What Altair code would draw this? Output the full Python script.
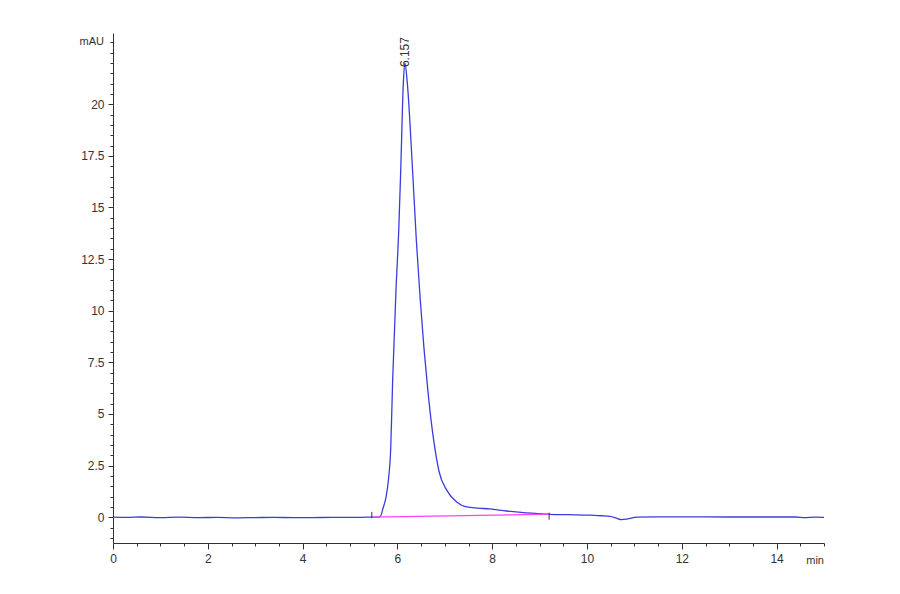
import altair as alt
import pandas as pd

# Chromatogram trace (time in min, signal in mAU)
times = [0.0, 0.3, 0.6, 1.0, 1.4, 1.8, 2.2, 2.6, 3.0, 3.4, 3.8, 4.2, 4.6, 5.0, 5.4, 5.55,
         5.633, 5.703, 5.76, 5.81, 5.86, 5.90, 5.97, 6.03, 6.07, 6.125, 6.157,
         6.21, 6.32, 6.40, 6.48, 6.56, 6.64, 6.71, 6.78, 6.88, 7.04, 7.25, 7.46, 7.7, 7.95,
         8.3, 8.66, 9.0, 9.22, 9.6, 10.06, 10.3, 10.49, 10.62, 10.73, 10.85, 11.05,
         11.5, 12.0, 13.0, 14.0, 14.4, 14.6, 14.8, 15.0]
signal = [0.0, -0.01, 0.01, -0.02, 0.0, -0.02, -0.01, -0.03, -0.02, -0.01, -0.02, -0.02, -0.01, -0.01, 0.0, 0.0,
          0.02, 0.48, 0.97, 1.79, 3.39, 6.63, 10.99, 14.0, 16.8, 21.0, 22.0,
          21.0, 16.8, 13.4, 10.6, 8.2, 6.2, 4.7, 3.5, 2.2, 1.31, 0.74, 0.50, 0.44, 0.40,
          0.30, 0.22, 0.17, 0.14, 0.12, 0.10, 0.07, 0.04, -0.05, -0.12, -0.09, 0.0,
          0.02, 0.02, 0.01, 0.01, 0.01, -0.02, 0.0, -0.01]

# Integration baseline
base_t = [5.46, 9.2]
base_v = [0.0, 0.15]

# Peak start / end markers
mark_t = [5.46, 9.2]
mark_lo = [-0.05, -0.12]
mark_hi = [0.26, 0.22]

peak_t = [6.157]
peak_v = [21.8]
peak_label = ["6.157"]

x_major = [0, 2, 4, 6, 8, 10, 12, 14]
x_minor = [i * 0.5 for i in range(0, 31)]
y_major = [0, 2.5, 5, 7.5, 10, 12.5, 15, 17.5, 20]
y_minor = [i * 0.5 for i in range(-2, 47)]

df = pd.DataFrame({"t": times, "v": signal})
df_base = pd.DataFrame({"t": base_t, "v": base_v})
df_marks = pd.DataFrame({"t": mark_t, "lo": mark_lo, "hi": mark_hi})
df_peak = pd.DataFrame({"t": peak_t, "v": peak_v, "label": peak_label})
df_mau = pd.DataFrame({"t": [0.0], "v": [23.0], "label": ["mAU"]})
df_min = pd.DataFrame({"t": [15.0], "v": [-1.25], "label": ["min"]})

xs = alt.Scale(domain=[0, 15], nice=False, zero=False)
ys = alt.Scale(domain=[-1.25, 23.45], nice=False, zero=False)

axis_common = dict(grid=False, domainColor="#333333", tickColor="#333333",
                   labelColor="#333333", labelFont="Liberation Sans", labelFontSize=12,
                   labelFlush=False)

x_axis_major = alt.Axis(values=x_major, orient="bottom", tickSize=6, labelPadding=4,
                        title=None, labelExpr="format(datum.value, '~g')", **axis_common)
y_axis_major = alt.Axis(values=y_major, orient="left", tickSize=5, labelPadding=4,
                        title=None, labelExpr="format(datum.value, '~g')", **axis_common)
x_axis_minor = alt.Axis(values=x_minor, orient="bottom", tickSize=3, labels=False,
                        title=None, domain=False, grid=False, tickColor="#333333")
y_axis_minor = alt.Axis(values=y_minor, orient="left", tickSize=3, labels=False,
                        title=None, domain=False, grid=False, tickColor="#333333")

trace = alt.Chart(df).mark_line(color="#3c3cdc", strokeWidth=1.3, interpolate="monotone").encode(
    x=alt.X("t:Q", scale=xs, axis=x_axis_major),
    y=alt.Y("v:Q", scale=ys, axis=y_axis_major),
)

minor = alt.Chart(df).mark_line(opacity=0).encode(
    x=alt.X("t:Q", scale=xs, axis=x_axis_minor),
    y=alt.Y("v:Q", scale=ys, axis=y_axis_minor),
)

baseline = alt.Chart(df_base).mark_line(color="#ff40ff", strokeWidth=1.3).encode(
    x=alt.X("t:Q", scale=xs, axis=None),
    y=alt.Y("v:Q", scale=ys, axis=None),
)

markers = alt.Chart(df_marks).mark_rule(color="#333333", strokeWidth=1).encode(
    x=alt.X("t:Q", scale=xs, axis=None),
    y=alt.Y("lo:Q", scale=ys, axis=None),
    y2="hi:Q",
)

peak_text = alt.Chart(df_peak).mark_text(angle=270, align="left", baseline="middle",
                                         font="Liberation Sans", fontSize=12, color="#333333").encode(
    x=alt.X("t:Q", scale=xs, axis=None),
    y=alt.Y("v:Q", scale=ys, axis=None),
    text="label:N",
)

mau_text = alt.Chart(df_mau).mark_text(align="right", baseline="middle", dx=-9,
                                       font="Liberation Sans", fontSize=11, color="#333333").encode(
    x=alt.X("t:Q", scale=xs, axis=None),
    y=alt.Y("v:Q", scale=ys, axis=None),
    text="label:N",
)

min_text = alt.Chart(df_min).mark_text(align="right", baseline="middle", dy=18,
                                       font="Liberation Sans", fontSize=11, color="#333333").encode(
    x=alt.X("t:Q", scale=xs, axis=None),
    y=alt.Y("v:Q", scale=ys, axis=None),
    text="label:N",
)

chart = alt.layer(trace, minor, baseline, markers, peak_text, mau_text, min_text).resolve_axis(
    x="independent", y="independent"
).properties(
    width=711, height=510,
    padding={"left": 105, "top": 25, "right": 60, "bottom": 30},
    autosize="none",
    background="white",
).configure_view(stroke=None)

chart.save("out.html", embed_options={"renderer": "svg", "actions": False})
